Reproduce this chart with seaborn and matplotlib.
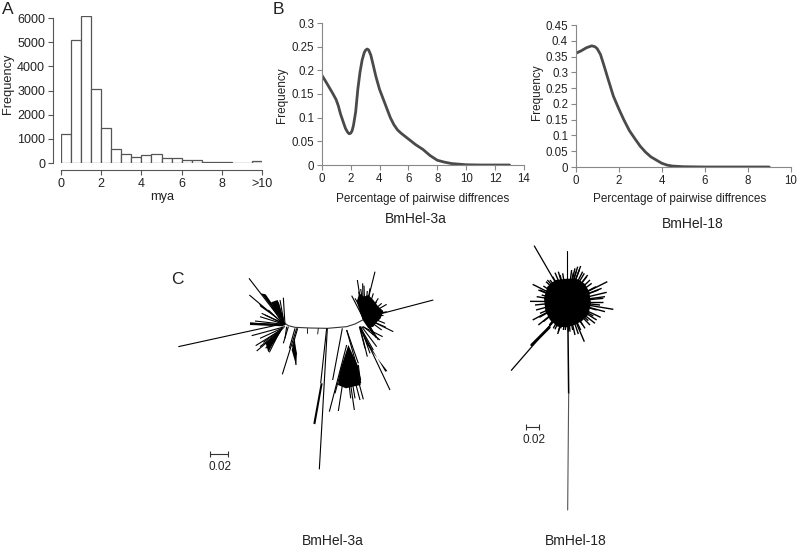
import matplotlib
matplotlib.use("Agg")
import matplotlib.pyplot as plt
import seaborn as sns

W, H = 799, 549

# panel A
age_edges = [0, .5, 1, 1.5, 2, 2.5, 3, 3.5, 4, 4.5, 5, 5.5, 6, 6.5, 7, 7.5, 8, 8.5, 9, 9.5, 10]
age_bins = [.25, .75, 1.25, 1.75, 2.25, 2.75, 3.25, 3.75, 4.25, 4.75, 5.25, 5.75, 6.25, 6.75, 7.25, 7.75, 8.25, 8.75, 9.25, 9.75]
age_freq = [1200, 5080, 6080, 3060, 1450, 580, 380, 260, 330, 370, 190, 200, 130, 120, 60, 40, 25, 15, 15, 100]
age_ticks = [0, 2, 4, 6, 8, 10]
age_labels = ['0', '2', '4', '6', '8', '>10']

# panel B
x_3a = [0, .25, .5, .75, 1, 1.15, 1.3, 1.5, 1.65, 1.8, 1.9, 2, 2.1, 2.2, 2.35, 2.5, 2.65, 2.8, 2.95, 3.05, 3.15, 3.25, 3.4, 3.55, 3.75, 4, 4.25, 4.5, 4.75, 5, 5.25, 5.5, 6, 6.5, 7, 7.5, 8, 8.5, 9, 10, 11, 12, 13]
y_3a = [.19, .178, .165, .152, .138, .125, .108, .09, .077, .069, .066, .067, .072, .084, .112, .16, .196, .222, .238, .243, .245, .243, .232, .213, .187, .16, .14, .12, .1, .085, .074, .067, .055, .043, .033, .02, .01, .006, .003, .0005, 0, 0, 0]
x_18 = [0, .25, .5, .75, .9, 1, 1.15, 1.3, 1.5, 1.75, 2, 2.25, 2.5, 2.75, 3, 3.25, 3.5, 3.75, 4, 4.25, 4.5, 5, 6, 7, 8, 9]
y_18 = [.36, .368, .378, .384, .381, .375, .357, .325, .28, .225, .185, .148, .115, .09, .066, .047, .032, .022, .012, .006, .003, .001, 0, 0, 0, 0]

backbone_x = [368, 385, 405, 450, 502, 560, 585, 608]
backbone_y = [185, 197, 202, 204, 205, 200, 192, 180]
small_branches = [(442, 205, 442, 218), (475, 205, 473, 222)]

left_origin = (225, 15)
left_segs = [
    (150, 180, 42, 40), (150, 180, 43, 90), (150, 180, 145, 98), (148, 178, 135, 105), (145, 175, 120, 110),
    (145, 170, 130, 112), (140, 170, 110, 125), (145, 175, 80, 145), (148, 178, 45, 175), (148, 178, 60, 168),
    (148, 178, 75, 155), (148, 178, 90, 150), (148, 180, 50, 178), (140, 172, 100, 135), (135, 150, 118, 112),
    (150, 175, -170, 245), (150, 185, 50, 212), (145, 190, 62, 242), (140, 195, 65, 258), (135, 198, 103, 262),
    (135, 198, 115, 230), (145, 188, 75, 220), (140, 192, 85, 232), (138, 196, 75, 245), (135, 198, 92, 250),
    (185, 190, 142, 328), (178, 220, 183, 300), (160, 185, 145, 235), (155, 185, 150, 220), (180, 190, 163, 250),
    (188, 190, 172, 245),
]
left_fill = [
    ([148, 78, 92, 145], [175, 85, 88, 165]),
    ([145, 72, 76, 140], [175, 115, 125, 170]),
    ([140, 108, 128, 146], [165, 112, 105, 160]),
    ([145, 45, 45, 145], [180, 172, 180, 184]),
    ([135, 92, 100, 112, 138], [196, 235, 262, 240, 200]),
    ([178, 170, 183, 186], [225, 255, 300, 265]),
]

right_origin = (540, 15)
right_segs = [
    (70, 160, 105, 20), (70, 160, 52, 45), (70, 160, 35, 92), (75, 150, 72, 62), (78, 150, 90, 70),
    (80, 150, 100, 85), (82, 150, 115, 100), (85, 150, 125, 115), (85, 150, 140, 118), (78, 160, 160, 200),
    (85, 155, 135, 175), (85, 150, 130, 150), (78, 165, 115, 225), (75, 165, 100, 210), (70, 160, 280, 105),
    (75, 150, 62, 72), (75, 150, 82, 78), (75, 150, 45, 100), (78, 160, 138, 187), (78, 160, 125, 195),
    (75, 165, 108, 218), (85, 150, 110, 110), (80, 155, 140, 140), (70, 160, 56, 80), (70, 160, 68, 55),
]
right_fill = [
    ([68, 50, 58, 72, 85, 100, 115, 130, 122, 110, 100, 85], [165, 110, 85, 95, 90, 105, 125, 138, 160, 172, 185, 190]),
]

fan_origin = (450, 195)
fan_segs = [
    (97, 10, 68, 165), (52, 10, 28, 433), (50, 10, 32, 175), (110, 15, 145, 115), (110, 15, 152, 165),
    (110, 60, 58, 260), (105, 130, 85, 258), (115, 130, 133, 255), (125, 130, 150, 225), (135, 130, 160, 223),
    (120, 130, 135, 220), (112, 130, 122, 220), (95, 130, 75, 205), (145, 120, 152, 175),
    (150, 5, 240, 195), (150, 5, 172, 95), (155, 5, 200, 65), (160, 5, 210, 45), (150, 5, 190, 75),
    (158, 5, 218, 35), (148, 5, 165, 70), (152, 5, 180, 85),
]
fan_fill = [
    ([115, 145, 152, 128, 108, 84, 92], [60, 125, 180, 185, 190, 180, 130]),
    ([32, 38, 16, 10], [175, 175, 298, 296]),
    ([150, 172, 232, 226], [10, 60, 138, 140]),
]

# BmHel-18 tree
hub_x, hub_y = 232, 215
blob_x = [232, 265, 285, 298, 303, 295, 275, 252, 232, 203, 180, 166, 162, 172, 196]
blob_y = [146, 148, 162, 186, 220, 254, 274, 285, 292, 290, 270, 243, 205, 170, 150]
tips_x = [205, 218, 245, 255, 263, 272, 283, 293, 305, 352, 335, 350, 345, 338, 370, 345, 332, 320,
          315, 300, 285, 283, 265, 255, 240, 226, 212, 203, 190, 170, 145, 128, 150, 120, 140, 155, 128, 150, 168, 180, 195,
          250, 258, 268, 278, 290, 300, 318, 325, 340, 330, 320, 310, 295, 278, 272, 248, 235, 220, 205, 195, 178, 160, 148, 138, 135, 145, 160, 172, 188, 210]
tips_y = [125, 130, 120, 115, 110, 108, 130, 135, 160, 155, 175, 187, 200, 215, 238, 245, 262, 270,
          280, 285, 295, 335, 312, 315, 305, 300, 295, 312, 295, 300, 285, 270, 250, 214, 200, 195, 163, 180, 155, 150, 128,
          128, 125, 120, 125, 140, 150, 170, 180, 205, 225, 240, 258, 272, 285, 300, 300, 305, 300, 305, 298, 285, 275, 262, 240, 225, 180, 168, 150, 140, 135]
tail_x = [195, 64]
tail_y = [270, 421]
tail_thick_x = [178, 125]
tail_thick_y = [292, 345]
top_x = [232, 232]
top_y = [215, 62]
upper_left_x = [195, 133]
upper_left_y = [155, 48]
trunk_x = [233, 236, 233]
trunk_y = [215, 490, 840]


def px_axes(fig, left, top, right, bottom):
    return fig.add_axes([left / W, 1 - bottom / H, (right - left) / W, (bottom - top) / H])


def style_axis(ax, color, size):
    ax.tick_params(labelsize=size, colors='#222222', color=color, length=3.5, width=.8, pad=2)
    for side in ['left', 'bottom']:
        ax.spines[side].set_color(color)
        ax.spines[side].set_linewidth(.8)


def label_at(ax, xlabel, ylabel, xpos, ypos, size):
    ax.set_xlabel(xlabel, fontsize=size, color='#222222')
    ax.set_ylabel(ylabel, fontsize=size, color='#222222')
    ax.xaxis.set_label_coords(xpos[0] / W, 1 - xpos[1] / H, transform=ax.figure.transFigure)
    ax.yaxis.set_label_coords(ypos[0] / W, 1 - ypos[1] / H, transform=ax.figure.transFigure)
    ax.xaxis.label.set_verticalalignment('center')
    ax.yaxis.label.set_verticalalignment('center')


def draw_cluster(ax, origin, segs, fills, lw=.8):
    dx, dy = origin
    for x0, y0, x1, y1 in segs:
        ax.plot([x0 + dx, x1 + dx], [y0 + dy, y1 + dy], color='black', lw=lw, solid_capstyle='butt')
    for xs, ys in fills:
        ax.fill([v + dx for v in xs], [v + dy for v in ys], color='black', lw=0)


sns.set_theme(style="ticks")
plt.rcParams['font.family'] = ['Liberation Sans', 'DejaVu Sans']

fig = plt.figure(figsize=(W / 100, H / 100), dpi=100)

# A
ax = px_axes(fig, 61, 15.6, 262, 163)
sns.histplot(x=age_bins, weights=age_freq, bins=age_edges, color='white', edgecolor='#555555', linewidth=.9, alpha=1, ax=ax)
ax.set_xlim(0, 10)
ax.set_ylim(0, 6100)
sns.despine(ax=ax)
ax.spines['left'].set_position(('outward', 6))
ax.spines['bottom'].set_position(('outward', 5))
ax.spines['left'].set_bounds(0, 6000)
ax.set_xticks(age_ticks, age_labels)
ax.set_yticks([0, 1000, 2000, 3000, 4000, 5000, 6000])
style_axis(ax, '#555555', 9)
label_at(ax, 'mya', 'Frequency', (162, 197), (8, 84), 9.2)

# B
ax = px_axes(fig, 321.7, 23, 524, 165)
sns.lineplot(x=x_3a, y=y_3a, color='#4a4a4a', linewidth=2, ax=ax)
ax.set_xlim(0, 14)
ax.set_ylim(0, .3)
sns.despine(ax=ax)
ax.set_xticks(range(0, 15, 2))
ax.set_yticks([0, .05, .1, .15, .2, .25, .3], ['0', '0.05', '0.1', '0.15', '0.2', '0.25', '0.3'])
style_axis(ax, '#888888', 8.3)
label_at(ax, 'Percentage of pairwise diffrences', 'Frequency', (423, 199), (282, 95), 8.5)

ax = px_axes(fig, 575.7, 25, 790.7, 167)
sns.lineplot(x=x_18, y=y_18, color='#4a4a4a', linewidth=2, ax=ax)
ax.set_xlim(0, 10)
ax.set_ylim(0, .45)
sns.despine(ax=ax)
ax.set_xticks(range(0, 11, 2))
ax.set_yticks([0, .05, .1, .15, .2, .25, .3, .35, .4, .45], ['0', '0.05', '0.1', '0.15', '0.2', '0.25', '0.3', '0.35', '0.4', '0.45'])
style_axis(ax, '#888888', 8.3)
label_at(ax, 'Percentage of pairwise diffrences', 'Frequency', (680, 199), (537, 92), 8.5)

# C, left tree
ax = px_axes(fig, 160, 260, 450, 490)
ax.set_xlim(0, 870)
ax.set_ylim(690, 0)
ax.axis('off')
ax.plot(backbone_x, backbone_y, color='#333333', lw=.8)
for x0, y0, x1, y1 in small_branches:
    ax.plot([x0, x1], [y0, y1], color='#222222', lw=.7)
draw_cluster(ax, left_origin, left_segs, left_fill)
draw_cluster(ax, right_origin, right_segs, right_fill)
draw_cluster(ax, fan_origin, fan_segs, fan_fill)
ax.plot([150, 205], [581, 581], color='#333333', lw=.8, marker='|', ms=4, mew=.8)
ax.text(180, 621, '0.02', ha='center', va='center', fontsize=8.5, color='#222222')

# C, right tree
ax = px_axes(fig, 490, 230, 660, 520)
ax.set_xlim(0, 510)
ax.set_ylim(870, 0)
ax.axis('off')
ax.fill(blob_x, blob_y, color='black', lw=0)
for tx, ty in zip(tips_x, tips_y):
    ax.plot([hub_x, tx], [hub_y, ty], color='black', lw=1, solid_capstyle='butt')
ax.plot(tail_x, tail_y, color='black', lw=.9)
ax.plot(tail_thick_x, tail_thick_y, color='black', lw=2)
ax.plot(top_x, top_y, color='black', lw=.8)
ax.plot(upper_left_x, upper_left_y, color='black', lw=.9)
ax.plot(trunk_x[:2], trunk_y[:2], color='black', lw=1.1)
ax.plot(trunk_x[1:], trunk_y[1:], color='#555555', lw=.8)
ax.plot([108, 148], [591, 591], color='#333333', lw=.8, marker='|', ms=4, mew=.8)
ax.text(132, 630, '0.02', ha='center', va='center', fontsize=8.5, color='#222222')

# panel letters and captions
for txt, x, y, size in [('A', 8, 9, 12.5), ('B', 278, 9, 12.5), ('C', 177, 280, 12.5),
                        ('BmHel-3a', 416, 219, 10), ('BmHel-18', 693, 224, 10),
                        ('BmHel-3a', 333, 541, 10), ('BmHel-18', 576, 541, 10)]:
    fig.text(x / W, 1 - y / H, txt, ha='center', va='center', fontsize=size, color='#222222')

fig.savefig('out.png', dpi=100)
